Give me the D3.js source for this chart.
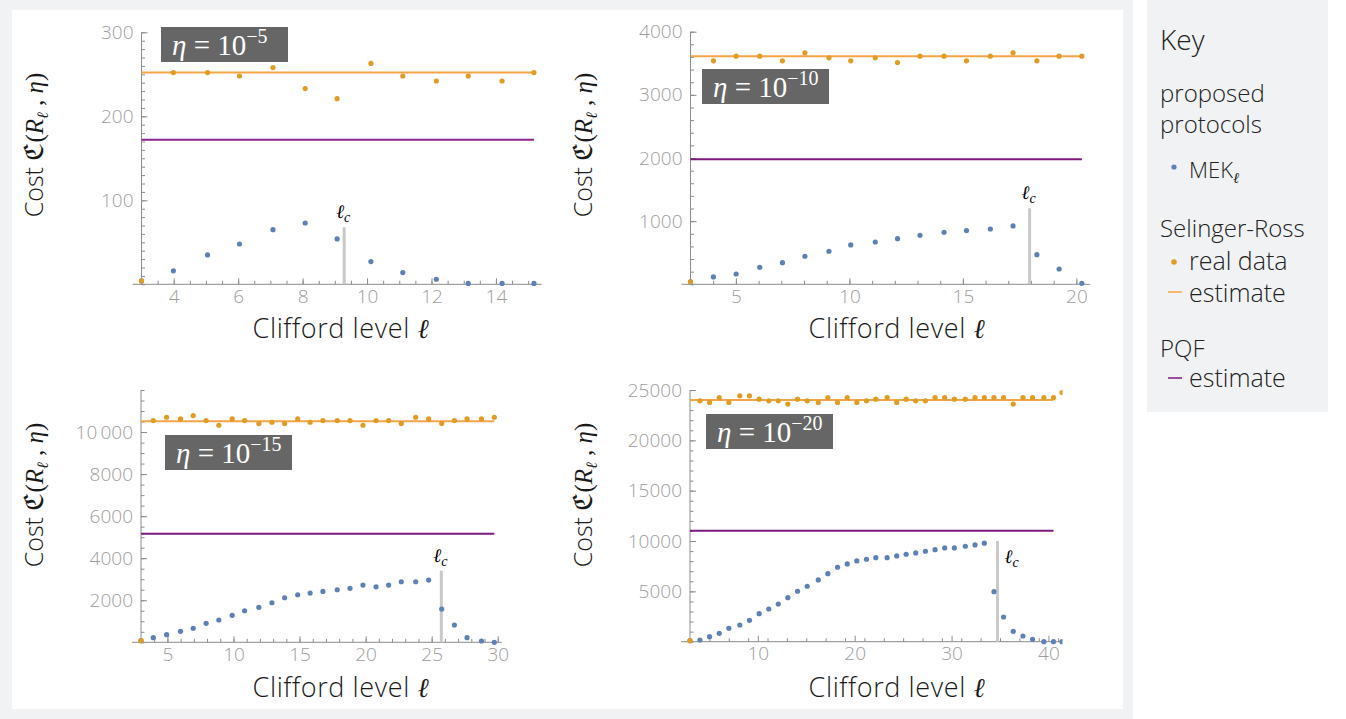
<!DOCTYPE html>
<html>
<head>
<meta charset="utf-8">
<script src="https://cdn.jsdelivr.net/npm/d3@7"></script>
<style>
body { margin: 0; background: #fff; }
svg text { font-family: "Open Sans", Lato, sans-serif; font-weight: 300; }
.tick text { font-family: "Open Sans", Lato, sans-serif; font-weight: 300; font-size: 19px; fill: #9d9d9d; }
.math { font-family: "Liberation Serif", "DejaVu Serif", serif; font-weight: 400; }
</style>
</head>
<body>
<script>
// values
// eta = 1e-5
var p1Level = [3, 3.99, 5.05, 6.04, 7.08, 8.08, 9.07, 10.12, 11.11, 12.15, 13.14, 14.19, 15.18]
var p1Mek = [4, 16, 35, 48, 65, 73, 54, 27, 14, 6, 1, 1, 1]
var p1Sr = [4, 252, 252, 248, 258, 233, 221, 263, 248, 242, 248, 242, 252]
var p1SrEst = 252, p1Pqf = 172, p1Lc = 9.29, p1LcTop = 68, p1EstEnd = 15.18
var p1XTicks = [4, 6, 8, 10, 12, 14]
var p1YTicks = [100, 200, 300]
var p1YLabels = ["100", "200", "300"]

// eta = 1e-10
var p2Level = [3, 4.01, 5.01, 6.05, 7.05, 8.04, 9.1, 10.06, 11.14, 12.12, 13.11, 14.17, 15.16, 16.21, 17.21, 18.26, 19.24, 20.24]
var p2Mek = [40, 116, 163, 269, 343, 444, 523, 623, 670, 723, 776, 824, 850, 876, 924, 469, 242, 16]
var p2Sr = [40, 3539, 3613, 3613, 3539, 3666, 3586, 3539, 3586, 3512, 3613, 3613, 3539, 3613, 3666, 3539, 3613, 3613]
var p2SrEst = 3610, p2Pqf = 1980, p2Lc = 17.94, p2LcTop = 1204, p2EstEnd = 20.24
var p2XTicks = [5, 10, 15, 20]
var p2YTicks = [1000, 2000, 3000, 4000]
var p2YLabels = ["1000", "2000", "3000", "4000"]

// eta = 1e-15
var p3Level = [3, 3.93, 4.94, 5.99, 6.95, 7.93, 8.89, 9.9, 10.84, 11.92, 12.91, 13.87, 14.86, 15.8, 16.77, 17.85, 18.82, 19.8, 20.79, 21.74, 22.7, 23.79, 24.77, 25.76, 26.72, 27.68, 28.77, 29.74]
var p3Mek = [75, 220, 363, 522, 665, 903, 1060, 1283, 1500, 1662, 1880, 2120, 2262, 2342, 2422, 2500, 2565, 2722, 2640, 2722, 2880, 2880, 2960, 1582, 822, 220, 62, 0]
var p3Sr = [75, 10546, 10703, 10622, 10784, 10546, 10323, 10622, 10546, 10404, 10466, 10404, 10622, 10466, 10546, 10546, 10546, 10323, 10546, 10546, 10404, 10703, 10622, 10404, 10546, 10622, 10622, 10703]
var p3SrEst = 10510, p3Pqf = 5160, p3Lc = 25.73, p3LcTop = 3400, p3EstEnd = 29.74
var p3XTicks = [5, 10, 15, 20, 25, 30]
var p3YTicks = [2000, 4000, 6000, 8000, 10000]
var p3YLabels = ["2000", "4000", "6000", "8000", "10\u2009000"]

// eta = 1e-20
var p4Level = [3, 4.02, 5.02, 6.02, 7.01, 8.14, 9.14, 10.14, 11.13, 12.11, 13.1, 14.1, 15.1, 16.24, 17.23, 18.23, 19.23, 20.22, 21.22, 22.18, 23.35, 24.34, 25.31, 26.3, 27.3, 28.3, 29.29, 30.29, 31.42, 32.42, 33.38, 34.38, 35.37, 36.37, 37.37, 38.36, 39.53, 40.52, 41.4]
var p4Mek = [100, 170, 500, 830, 1330, 1660, 2125, 2783, 3250, 3747, 4374, 5010, 5507, 6133, 6760, 7395, 7723, 8021, 8190, 8350, 8350, 8518, 8688, 8817, 8986, 9145, 9314, 9314, 9483, 9612, 9781, 4970, 2455, 1034, 567, 239, 0, 0, 0]
var p4Sr = [100, 23926, 23760, 24257, 23760, 24423, 24423, 24092, 23926, 23926, 23598, 24092, 23926, 23760, 24257, 23760, 24257, 23760, 23926, 24092, 24257, 23760, 24092, 23926, 23926, 24257, 24257, 24092, 24092, 24257, 24257, 24257, 24257, 23598, 24257, 24257, 24257, 24257, 24750]
var p4SrEst = 24000, p4Pqf = 11030, p4Lc = 34.74, p4LcTop = 10000, p4EstEnd = 40.52
var p4XTicks = [10, 20, 30, 40]
var p4YTicks = [5000, 10000, 15000, 20000, 25000]
var p4YLabels = ["5000", "10000", "15000", "20000", "25000"]

var blue = "#5e81b5", orange = "#e19c24", orangeLine = "#f5a447", purple = "#7d1880"

var panels = [
  {level: p1Level, mek: p1Mek, sr: p1Sr, est: p1SrEst, pqf: p1Pqf, lc: p1Lc, lcTop: p1LcTop, estEnd: p1EstEnd,
   xTicks: p1XTicks, yTicks: p1YTicks, yLabels: p1YLabels, eta: "\u22125",
   xDom: [3, 15.42], yDom: [0, 300], xMinor: 0.5, yMinor: 10,
   left: 141.5, right: 541.7, top: 32.3, bottom: 284.3,
   box: [161, 27, 127, 35], xLab: [341, 338], yLab: [43, 145], lcLab: "above", pqfColor: "#90238f"},
  {level: p2Level, mek: p2Mek, sr: p2Sr, est: p2SrEst, pqf: p2Pqf, lc: p2Lc, lcTop: p2LcTop, estEnd: p2EstEnd,
   xTicks: p2XTicks, yTicks: p2YTicks, yLabels: p2YLabels, eta: "\u221210",
   xDom: [3, 20.6], yDom: [0, 4000], xMinor: 1, yMinor: 200,
   left: 690.5, right: 1090, top: 31.7, bottom: 284.3,
   box: [702, 69, 127, 35], xLab: [897, 338], yLab: [592, 145], lcLab: "above", pqfColor: purple},
  {level: p3Level, mek: p3Mek, sr: p3Sr, est: p3SrEst, pqf: p3Pqf, lc: p3Lc, lcTop: p3LcTop, estEnd: p3EstEnd,
   xTicks: p3XTicks, yTicks: p3YTicks, yLabels: p3YLabels, eta: "\u221215",
   xDom: [3, 30.3], yDom: [0, 12000], xMinor: 1, yMinor: 500,
   left: 141, right: 501.7, top: 390, bottom: 642.3,
   box: [165, 435, 127, 35], xLab: [341, 697], yLab: [43, 495], lcLab: "above", pqfColor: purple},
  {level: p4Level, mek: p4Mek, sr: p4Sr, est: p4SrEst, pqf: p4Pqf, lc: p4Lc, lcTop: p4LcTop, estEnd: p4EstEnd,
   xTicks: p4XTicks, yTicks: p4YTicks, yLabels: p4YLabels, eta: "\u221220",
   xDom: [3, 41.4], yDom: [0, 25000], xMinor: 2, yMinor: 1000,
   left: 690, right: 1062, top: 390, bottom: 641.7,
   box: [706, 414, 127, 35], xLab: [897, 697], yLab: [592, 495], lcLab: "right", pqfColor: purple}
]

var svg = d3.select("body").append("svg")
  .attr("width", 1346)
  .attr("height", 719)

svg.append("rect").attr("x", 0).attr("y", 0).attr("width", 1133).attr("height", 719).attr("fill", "#f1f2f4")
svg.append("rect").attr("x", 12).attr("y", 10).attr("width", 1111).attr("height", 699).attr("fill", "#fff")
svg.append("rect").attr("x", 1147).attr("y", 0).attr("width", 181).attr("height", 412).attr("fill", "#f1f2f4")

panels.forEach(function(p, pi){
  var g = svg.append("g")
  var x = d3.scaleLinear().domain(p.xDom).range([p.left, p.right])
  var y = d3.scaleLinear().domain(p.yDom).range([p.bottom, p.top])
  var axisColor = "#8c8c8c"

  // minor ticks
  g.append("g").attr("transform", "translate(0," + p.bottom + ")")
    .call(d3.axisBottom(x).tickValues(d3.range(p.xDom[0], p.xDom[1], p.xMinor)).tickSize(-3.5).tickFormat(""))
  g.append("g").attr("transform", "translate(" + p.left + ",0)")
    .call(d3.axisLeft(y).tickValues(d3.range(0, p.yDom[1] + 1, p.yMinor)).tickSize(-3.5).tickFormat(""))
  // major ticks
  g.append("g").attr("transform", "translate(0," + p.bottom + ")")
    .call(d3.axisBottom(x).tickValues(p.xTicks).tickSize(-6).tickPadding(5))
  g.append("g").attr("transform", "translate(" + p.left + ",0)")
    .call(d3.axisLeft(y).tickValues(p.yTicks).tickSize(-6).tickPadding(8)
      .tickFormat(function(d, i){ return p.yLabels[i] }))
  g.selectAll(".domain").remove()
  g.selectAll(".tick line").attr("stroke", axisColor)

  g.append("line").attr("x1", p.left - 9).attr("x2", p.right)
    .attr("y1", p.bottom).attr("y2", p.bottom).attr("stroke", axisColor)
  g.append("line").attr("x1", p.left).attr("x2", p.left)
    .attr("y1", p.bottom).attr("y2", p.top).attr("stroke", axisColor)

  var clipId = "clip" + pi
  svg.append("clipPath").attr("id", clipId).append("rect")
    .attr("x", p.left - 6).attr("y", p.top - 10)
    .attr("width", p.right - p.left + 6.5).attr("height", p.bottom - p.top + 16)
  var plot = g.append("g").attr("clip-path", "url(#" + clipId + ")")

  plot.append("line").attr("x1", x(p.xDom[0])).attr("x2", x(p.estEnd))
    .attr("y1", y(p.est)).attr("y2", y(p.est))
    .attr("stroke", orangeLine).attr("stroke-width", 2)
  plot.append("line").attr("x1", x(p.xDom[0])).attr("x2", x(p.estEnd))
    .attr("y1", y(p.pqf)).attr("y2", y(p.pqf))
    .attr("stroke", p.pqfColor).attr("stroke-width", 2)

  // critical level
  plot.append("line").attr("x1", x(p.lc)).attr("x2", x(p.lc))
    .attr("y1", y(0)).attr("y2", y(p.lcTop))
    .attr("stroke", "#c9c9c9").attr("stroke-width", 3)

  plot.selectAll("circle.mek")
    .data(p.mek)
    .enter()
    .append("circle")
    .classed("mek", true)
    .attr("cx", function(d, i){ return x(p.level[i]) })
    .attr("cy", function(d){ return y(d) })
    .attr("r", 2.6)
    .attr("fill", blue)

  plot.selectAll("circle.sr")
    .data(p.sr)
    .enter()
    .append("circle")
    .classed("sr", true)
    .attr("cx", function(d, i){ return x(p.level[i]) })
    .attr("cy", function(d){ return y(d) })
    .attr("r", 2.6)
    .attr("fill", orange)

  // l_c label
  var lt = g.append("text").attr("class", "math").attr("font-size", 19).attr("font-style", "italic")
  if (p.lcLab == "above") {
    lt.attr("x", x(p.lc) - 8).attr("y", y(p.lcTop) - 9)
  } else {
    lt.attr("x", x(p.lc) + 7).attr("y", y(p.lcTop) + 22)
  }
  lt.append("tspan").text("\u2113")
  lt.append("tspan").attr("font-size", 14).attr("dy", 4).text("c")

  // eta box
  g.append("rect").attr("x", p.box[0]).attr("y", p.box[1])
    .attr("width", p.box[2]).attr("height", p.box[3]).attr("fill", "#666")
  var et = g.append("text").attr("class", "math").attr("fill", "#fff")
    .attr("x", p.box[0] + 11).attr("y", p.box[1] + 28).attr("font-size", 29)
  et.append("tspan").attr("font-style", "italic").text("\u03b7")
  et.append("tspan").text(" = 10")
  et.append("tspan").attr("font-size", 20).attr("dy", -12).text(p.eta)

  // axis labels
  var xl = g.append("text").attr("x", p.xLab[0]).attr("y", p.xLab[1])
    .attr("text-anchor", "middle").attr("font-size", 27).attr("fill", "#1a1a1a")
    .attr("letter-spacing", 0.6)
  xl.append("tspan").text("Clifford level ")
  xl.append("tspan").attr("class", "math").attr("font-style", "italic").text("\u2113")

  var yl = g.append("text")
    .attr("transform", "translate(" + p.yLab[0] + "," + p.yLab[1] + ") rotate(-90)")
    .attr("text-anchor", "middle").attr("font-size", 25).attr("fill", "#1a1a1a")
  yl.append("tspan").text("Cost ")
  yl.append("tspan").attr("class", "math").attr("font-weight", "bold").attr("font-size", 27).text("\u212d")
  yl.append("tspan").attr("class", "math").text("(")
  yl.append("tspan").attr("class", "math").attr("font-style", "italic").text("R")
  yl.append("tspan").attr("class", "math").attr("font-style", "italic").attr("font-size", 16).attr("dy", 5).text("\u2113")
  yl.append("tspan").attr("class", "math").attr("dy", -5).text(" , ")
  yl.append("tspan").attr("class", "math").attr("font-style", "italic").text("\u03b7")
  yl.append("tspan").attr("class", "math").text(")")
})

// key
var key = svg.append("g").attr("fill", "#222")
key.append("text").attr("x", 1160).attr("y", 50).attr("font-size", 28).attr("font-weight", 400).text("Key")
key.append("text").attr("x", 1160).attr("y", 102).attr("font-size", 24).text("proposed")
key.append("text").attr("x", 1160).attr("y", 133).attr("font-size", 24).text("protocols")
key.append("circle").attr("cx", 1174).attr("cy", 167).attr("r", 2.6).attr("fill", blue)
var mk = key.append("text").attr("x", 1189).attr("y", 178).attr("font-size", 22)
mk.append("tspan").text("MEK")
mk.append("tspan").attr("class", "math").attr("font-style", "italic").attr("font-size", 15).attr("dy", 5).text("\u2113")
key.append("text").attr("x", 1160).attr("y", 237).attr("font-size", 24).text("Selinger-Ross")
key.append("circle").attr("cx", 1174).attr("cy", 262).attr("r", 2.8).attr("fill", orange)
key.append("text").attr("x", 1189).attr("y", 270).attr("font-size", 25).text("real data")
key.append("line").attr("x1", 1168).attr("x2", 1182).attr("y1", 292).attr("y2", 292).attr("stroke", orangeLine).attr("stroke-width", 1.5)
key.append("text").attr("x", 1189).attr("y", 302).attr("font-size", 25).text("estimate")
key.append("text").attr("x", 1160).attr("y", 357).attr("font-size", 24).text("PQF")
key.append("line").attr("x1", 1168).attr("x2", 1182).attr("y1", 378).attr("y2", 378).attr("stroke", purple).attr("stroke-width", 1.5)
key.append("text").attr("x", 1189).attr("y", 387).attr("font-size", 25).text("estimate")
</script>
</body>
</html>
